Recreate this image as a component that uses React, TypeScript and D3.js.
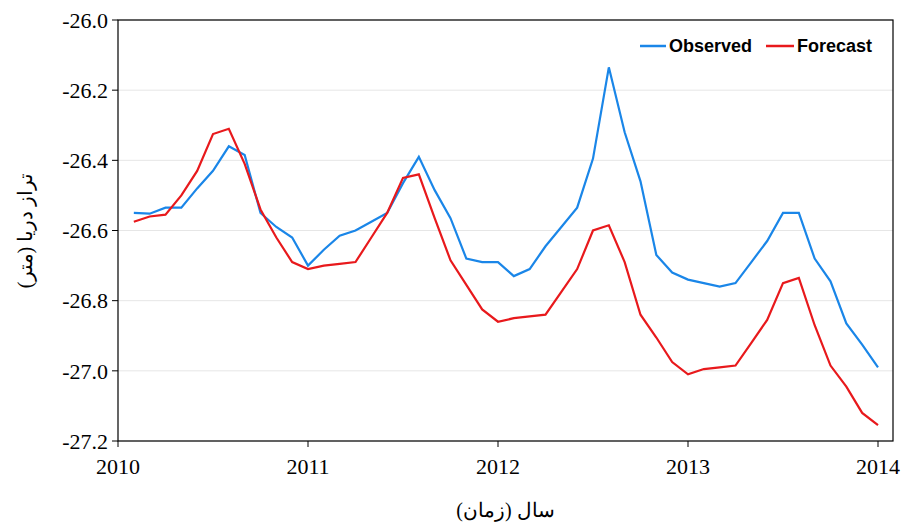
import React from "react";
import * as d3 from "d3";

const observed = [-26.55,-26.552,-26.535,-26.535,-26.48,-26.43,-26.36,-26.385,-26.55,-26.59,-26.62,-26.70,-26.655,-26.615,-26.60,-26.575,-26.55,-26.465,-26.39,-26.485,-26.565,-26.68,-26.69,-26.69,-26.73,-26.71,-26.645,-26.59,-26.535,-26.395,-26.135,-26.32,-26.46,-26.67,-26.72,-26.74,-26.75,-26.76,-26.75,-26.69,-26.63,-26.55,-26.55,-26.68,-26.745,-26.865,-26.925,-26.99];
const forecast = [-26.575,-26.56,-26.555,-26.5,-26.43,-26.325,-26.31,-26.41,-26.54,-26.62,-26.69,-26.71,-26.70,-26.695,-26.69,-26.62,-26.55,-26.45,-26.44,-26.565,-26.685,-26.755,-26.825,-26.86,-26.85,-26.845,-26.84,-26.775,-26.71,-26.60,-26.585,-26.69,-26.84,-26.905,-26.975,-27.01,-26.995,-26.99,-26.985,-26.92,-26.855,-26.75,-26.735,-26.87,-26.985,-27.045,-27.12,-27.155];
const xTicks = [2010, 2011, 2012, 2013, 2014];
const yTicks = [-26.0, -26.2, -26.4, -26.6, -26.8, -27.0, -27.2];

export default function App() {
  const L = 118, R = 893, T = 20, B = 441;
  const x = d3.scaleLinear().domain([2010, 2014]).range([L, 878]);
  const y = d3.scaleLinear().domain([-27.2, -26.0]).range([B, T]);
  const line = d3.line<number>().x((_, i) => x(2010 + (i + 1) / 12)).y((d) => y(d));
  const serif = "'Liberation Serif', 'Times New Roman', serif";
  const sans = "'Liberation Sans', Arial, sans-serif";
  return (
    <svg width={902} height={526} style={{ position: "absolute", left: 0, top: 0, background: "#fff" }}>
      {yTicks.map((t) => (
        <g key={t}>
          <line x1={L} x2={R} y1={y(t)} y2={y(t)} stroke="#e6e6e6" />
          <line x1={L - 6} x2={L} y1={y(t)} y2={y(t)} stroke="#000" />
          <text x={L - 10} y={y(t)} dy="0.35em" textAnchor="end" fontFamily={serif} fontSize={22}>{t.toFixed(1)}</text>
        </g>
      ))}
      {xTicks.map((t) => (
        <g key={t}>
          <line x1={x(t)} x2={x(t)} y1={B} y2={B + 6} stroke="#000" />
          <text x={x(t)} y={B + 33} textAnchor="middle" fontFamily={serif} fontSize={22}>{t}</text>
        </g>
      ))}
      <rect x={L} y={T} width={R - L} height={B - T} fill="none" stroke="#000" strokeWidth={1.2} />
      <path d={line(observed) || ""} fill="none" stroke="#1a86e8" strokeWidth={2.2} />
      <path d={line(forecast) || ""} fill="none" stroke="#e8191c" strokeWidth={2.2} />
      <line x1={640} x2={666} y1={46} y2={46} stroke="#1a86e8" strokeWidth={2.5} />
      <text x={669} y={52} fontFamily={sans} fontWeight="bold" fontSize={18}>Observed</text>
      <line x1={766} x2={794} y1={46} y2={46} stroke="#e8191c" strokeWidth={2.5} />
      <text x={797} y={52} fontFamily={sans} fontWeight="bold" fontSize={18}>Forecast</text>
      <text transform={`translate(32,${(T + B) / 2}) rotate(-90)`} textAnchor="middle" fontFamily={serif} fontSize={20} direction="rtl">تراز دریا (متر)</text>
      <text x={(L + R) / 2} y={517} textAnchor="middle" fontFamily={serif} fontSize={20} direction="rtl">سال (زمان)</text>
    </svg>
  );
}
